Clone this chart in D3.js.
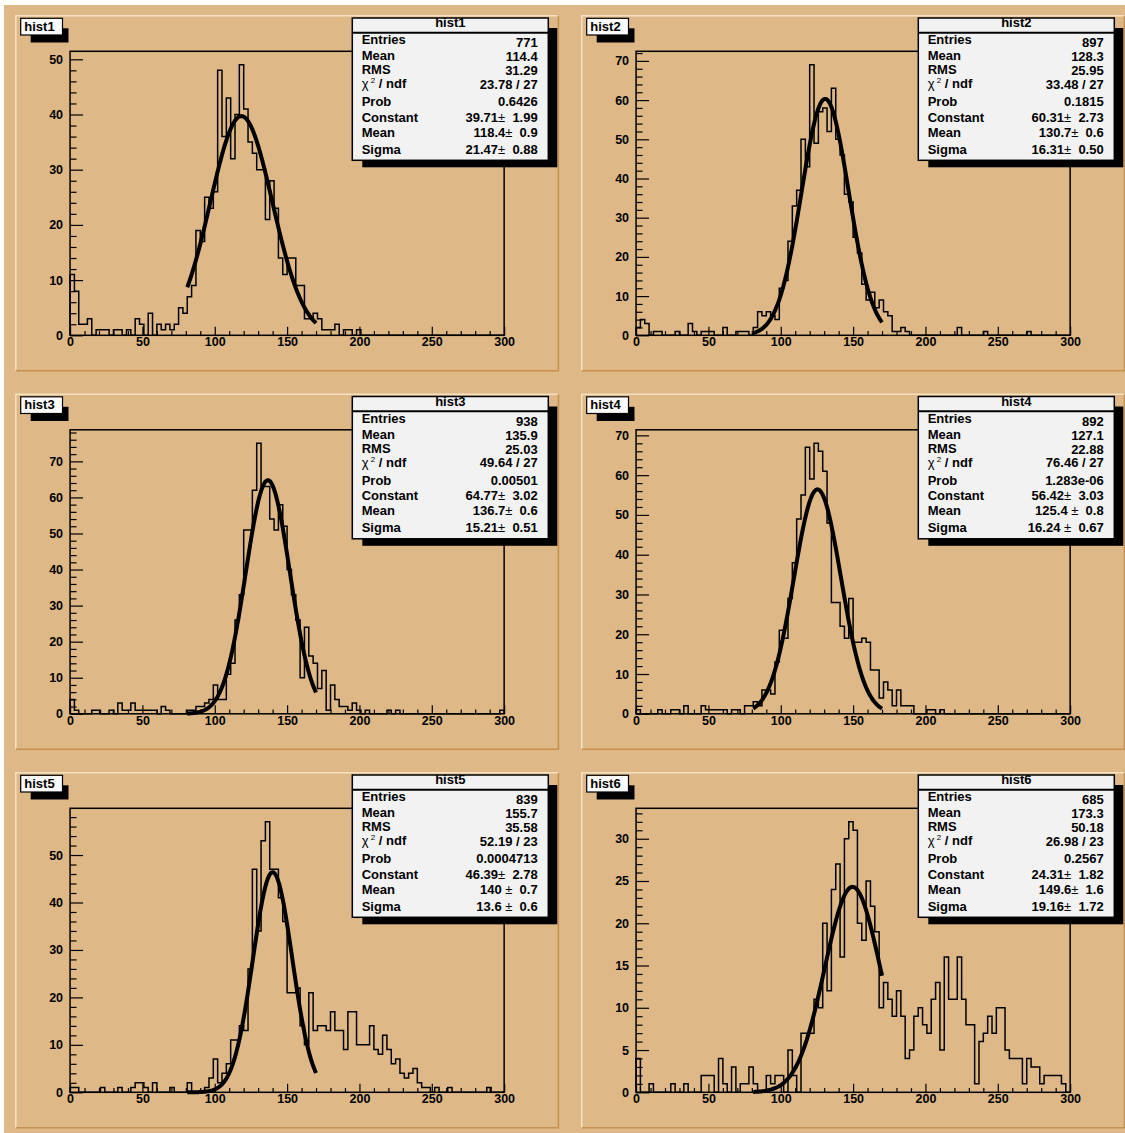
<!DOCTYPE html>
<html>
<head>
<meta charset="utf-8">
<script src="https://cdn.jsdelivr.net/npm/d3@7"></script>
<style>
  html, body { margin: 0; padding: 0; background: #ffffff; }
  svg { display: block; font-family: "Liberation Sans", Arial, Helvetica, sans-serif; }
</style>
</head>
<body>
<svg id="canvas" width="1125" height="1133"></svg>
<script>
// ---- histogram contents: 100 bins of width 3 on [0, 300] ----
const names = ["hist1", "hist2", "hist3", "hist4", "hist5", "hist6"];

const hist1 = [
  11,8,2,2,3,0,1,1,1,0, 1,1,0,1,0,3,2,0,4,0, 2,1,2,1,2,5,4,7,9,19,
  17,25,23,26,48,36,43,32,40,49, 41,35,33,30,30,21,28,23,14,11,
  14,14,9,9,3,3,4,3,1,1, 1,2,0,1,1,0,1,0,0,0,
  0,0,0,0,0,0,0,0,0,0, 0,0,0,0,0,0,0,0,0,0, 0,0,0,0,0,0,0,0,0,0];
const hist2 = [
  2,4,3,0,1,1,0,0,0,1, 0,0,3,1,0,1,1,1,0,0, 2,0,0,1,1,1,0,2,6,5,
  6,5,4,12,14,24,33,37,50,43, 69,49,57,58,52,63,50,46,36,34,
  25,21,13,9,11,7,9,6,5,1, 1,2,1,0,0,0,0,0,0,0,
  0,0,0,0,2,0,0,0,0,0, 1,0,0,0,0,0,0,0,0,0, 1,0,0,0,0,0,0,0,0,0];
const hist3 = [
  4,1,0,0,0,1,1,0,0,1, 0,3,1,1,3,1,1,1,1,1, 0,2,1,0,0,0,0,1,1,2,
  2,3,4,8,4,4,11,14,26,33, 51,51,62,75,63,63,54,51,58,52,
  40,33,26,10,24,16,14,7,12,1, 8,4,2,2,1,3,1,0,1,0,
  0,0,0,1,0,1,0,0,0,0, 0,0,0,0,0,0,0,0,0,0, 0,0,0,0,0,0,0,0,0,1];
const hist4 = [
  1,0,0,0,0,1,0,0,1,1, 0,2,0,0,0,2,1,1,1,1, 1,0,1,1,0,2,2,3,2,6,
  6,5,13,21,19,29,38,49,55,67, 59,68,66,61,48,28,28,22,19,29,
  18,18,19,18,11,11,4,8,6,2, 6,2,2,2,0,0,0,1,1,0,
  1,0,0,0,0,0,0,0,0,0, 0,0,0,0,0,0,0,0,0,0, 0,0,0,0,0,0,0,0,0,0];
const hist5 = [
  1,1,0,0,0,0,0,1,0,0, 0,1,0,0,1,2,2,1,0,2, 0,0,0,1,0,0,0,2,0,0,
  0,1,3,7,2,4,6,11,11,14, 13,26,47,34,53,57,47,47,41,36,
  21,21,22,14,10,21,13,14,14,13, 17,13,13,9,17,17,10,10,10,14,
  9,8,12,9,6,7,4,3,4,5, 2,1,1,0,1,0,0,1,0,0, 0,0,0,0,0,0,1,0,0,0];
const hist6 = [
  4,0,0,1,0,0,0,0,1,0, 0,1,0,0,0,2,2,2,0,4, 1,0,3,0,1,1,3,1,0,0,
  2,1,2,2,0,5,2,0,7,7, 7,11,10,20,12,24,27,16,30,32,
  31,20,18,25,22,19,10,13,11,9, 12,9,4,5,9,10,8,7,11,13,
  5,16,11,11,16,11,8,8,1,6, 7,9,7,10,10,5,4,4,4,1, 4,3,3,1,2,2,2,2,1,0];
const histograms = [hist1, hist2, hist3, hist4, hist5, hist6];
const xDomain = [0, 300];

// ---- gaussian fit results ----
const fitConstant = [39.71, 60.31, 64.77, 56.42, 46.39, 24.31];
const fitMean     = [118.4, 130.7, 136.7, 125.4, 140,   149.6];
const fitSigma    = [21.47, 16.31, 15.21, 16.24, 13.6,  19.16];
const fitRange    = [81, 170];

// ---- statistics box text ----
const statLabels = ["Entries", "Mean", "RMS", "chi2", "Prob", "Constant", "Mean", "Sigma"];
const entriesText = ["771", "897", "938", "892", "839", "685"];
const meanText    = ["114.4", "128.3", "135.9", "127.1", "155.7", "173.3"];
const rmsText     = ["31.29", "25.95", "25.03", "22.88", "35.58", "50.18"];
const chi2Text    = ["23.78 / 27", "33.48 / 27", "49.64 / 27", "76.46 / 27", "52.19 / 23", "26.98 / 23"];
const probText    = ["0.6426", "0.1815", "0.00501", "1.283e-06", "0.0004713", "0.2567"];
const constVal    = ["39.71", "60.31", "64.77", "56.42", "46.39", "24.31"];
const constErr    = ["1.99", "2.73", "3.02", "3.03", "2.78", "1.82"];
const meanVal     = ["118.4", "130.7", "136.7", "125.4 ", "140 ", "149.6"];
const meanErr     = ["0.9", "0.6", "0.6", "0.8", "0.7", "1.6"];
const sigmaVal    = ["21.47", "16.31", "15.21", "16.24 ", "13.6 ", "19.16"];
const sigmaErr    = ["0.88", "0.50", "0.51", "0.67", "0.6", "1.72"];

// ---- axis ticks ----
const xMajorTicks = [0, 50, 100, 150, 200, 250, 300];
const xMinorStep = 10;
const yMajorStep = [10, 10, 10, 10, 10, 5];
const yMinorStep = [2, 2, 2, 2, 2, 1];

// ---- canvas / pad layout ----
const TAN = "#deb887";
const LIGHT = "#f4e2c2";
const DARK = "#c4914f";
const PAD_X = [15.8, 581.8];
const PAD_Y = [15.8, 394.3, 772.8];
const PAD_W = 542.6, PAD_H = 355;
const FONT = "'Liberation Sans', Arial, Helvetica, sans-serif";

const svg = d3.select("#canvas");
svg.append("rect").attr("x", 4).attr("y", 5).attr("width", 1121).attr("height", 1128).attr("fill", TAN);

histograms.forEach((counts, i) => {
  const col = i % 2, row = Math.floor(i / 2);
  const g = svg.append("g").attr("transform", `translate(${PAD_X[col]},${PAD_Y[row]})`);

  // pad bevel
  g.append("rect").attr("width", PAD_W).attr("height", PAD_H).attr("fill", TAN);
  g.append("path").attr("d", `M0,${PAD_H} L0,0 L${PAD_W},0`).attr("fill", "none").attr("stroke", LIGHT).attr("stroke-width", 1.5);
  g.append("path").attr("d", `M0,${PAD_H} L${PAD_W},${PAD_H} L${PAD_W},0`).attr("fill", "none").attr("stroke", DARK).attr("stroke-width", 1.5);

  const fx0 = 0.1 * PAD_W, fx1 = 0.9 * PAD_W, fy0 = 0.1 * PAD_H, fy1 = 0.9 * PAD_H;
  const x = d3.scaleLinear().domain(xDomain).range([fx0, fx1]);
  const ymax = 1.05 * d3.max(counts);
  const y = d3.scaleLinear().domain([0, ymax]).range([fy1, fy0]);
  const binW = (xDomain[1] - xDomain[0]) / counts.length;

  // histogram outline (step line)
  const pts = [[xDomain[0], 0]];
  counts.forEach((c, k) => { pts.push([k * binW, c]); pts.push([(k + 1) * binW, c]); });
  pts.push([xDomain[1], 0]);
  g.append("path")
    .attr("d", d3.line().x(d => x(d[0])).y(d => y(d[1]))(pts))
    .attr("fill", "none").attr("stroke", "#000").attr("stroke-width", 1.5);

  // gaussian fit curve
  const gauss = v => fitConstant[i] * Math.exp(-0.5 * Math.pow((v - fitMean[i]) / fitSigma[i], 2));
  const fitPts = d3.range(fitRange[0], fitRange[1] + 0.001, 0.5);
  g.append("path")
    .attr("d", d3.line().x(v => x(v)).y(v => y(gauss(v)))(fitPts))
    .attr("fill", "none").attr("stroke", "#000").attr("stroke-width", 4);

  // frame
  g.append("rect").attr("x", fx0).attr("y", fy0).attr("width", fx1 - fx0).attr("height", fy1 - fy0)
    .attr("fill", "none").attr("stroke", "#000").attr("stroke-width", 1.5);

  // y axis
  const yMajor = d3.range(0, ymax + 1e-9, yMajorStep[i]);
  const yMinor = d3.range(0, ymax + 1e-9, yMinorStep[i]).filter(v => !yMajor.includes(v));
  const yAxis = g.append("g").attr("transform", `translate(${fx0},0)`)
    .call(d3.axisLeft(y).tickValues(yMajor).tickSize(-13).tickPadding(7).tickFormat(d3.format("d")));
  const yAxisMinor = g.append("g").attr("transform", `translate(${fx0},0)`)
    .call(d3.axisLeft(y).tickValues(yMinor).tickSize(-6.5).tickFormat(""));

  // x axis
  const xMinor = d3.range(xDomain[0], xDomain[1] + 1e-9, xMinorStep).filter(v => !xMajorTicks.includes(v));
  const xAxis = g.append("g").attr("transform", `translate(0,${fy1})`)
    .call(d3.axisBottom(x).tickValues(xMajorTicks).tickSize(-8.5).tickPadding(2).tickFormat(d3.format("d")));
  const xAxisMinor = g.append("g").attr("transform", `translate(0,${fy1})`)
    .call(d3.axisBottom(x).tickValues(xMinor).tickSize(-4.2).tickFormat(""));

  [yAxis, yAxisMinor, xAxis, xAxisMinor].forEach(a => {
    a.select(".domain").remove();
    a.attr("font-family", FONT).attr("font-size", 12.5).attr("font-weight", "bold");
    a.selectAll("line").attr("stroke", "#000").attr("stroke-width", 1.2);
    a.selectAll("text").attr("fill", "#000");
  });

  // statistics box
  const bx = 336.5, by = 2.2, bw = 196, bh = 142.3;
  g.append("rect").attr("x", bx + 10).attr("y", by + 10).attr("width", bw - 1).attr("height", bh - 3).attr("fill", "#000");
  g.append("rect").attr("x", bx).attr("y", by).attr("width", bw).attr("height", bh)
    .attr("fill", "#f2f2f2").attr("stroke", "#000").attr("stroke-width", 1.5);
  g.append("line").attr("x1", bx).attr("x2", bx + bw).attr("y1", by + 14.7).attr("y2", by + 14.7)
    .attr("stroke", "#000").attr("stroke-width", 2);
  const st = g.append("g").attr("font-family", FONT).attr("font-size", 13).attr("font-weight", "bold").attr("fill", "#000");
  st.append("text").attr("x", bx + bw / 2).attr("y", by + 9).attr("text-anchor", "middle").text(names[i]);

  const labelBase = [26.3, 42.3, 56.3, 70.5, 88.3, 104, 119, 135.7];
  const valueBase = [29.5, 43.3, 57.3, 71, 88.3, 104, 119, 135.7];
  const lx = bx + 9.4, rx = bx + bw - 10.6;
  statLabels.forEach((lab, r) => {
    const t = st.append("text").attr("x", lx).attr("y", by + labelBase[r]);
    if (lab === "chi2") {
      t.append("tspan").attr("font-weight", "normal").text("χ");
      t.append("tspan").attr("font-size", 8).attr("font-weight", "normal").attr("dy", -5).text(" 2");
      t.append("tspan").attr("dy", 5).text("  / ndf");
    } else {
      t.text(lab);
    }
  });
  const plainVals = [entriesText[i], meanText[i], rmsText[i], chi2Text[i], probText[i]];
  plainVals.forEach((v, r) => {
    st.append("text").attr("x", rx).attr("y", by + valueBase[r]).attr("text-anchor", "end").text(v);
  });
  [[constVal[i], constErr[i]], [meanVal[i], meanErr[i]], [sigmaVal[i], sigmaErr[i]]].forEach(([v, e], r) => {
    const t = st.append("text").attr("x", rx).attr("y", by + valueBase[r + 5]).attr("text-anchor", "end")
      .attr("xml:space", "preserve");
    t.append("tspan").text(v);
    t.append("tspan").attr("font-weight", "normal").text("±");
    t.append("tspan").text("  " + e);
  });

  // pad title label
  const lbx = 4.9, lby = 2.5, lbw = 41.8, lbh = 16.7;
  g.append("rect").attr("x", lbx + 10).attr("y", lby + 10).attr("width", lbw - 4).attr("height", lbh - 2.5).attr("fill", "#000");
  g.append("rect").attr("x", lbx).attr("y", lby).attr("width", lbw).attr("height", lbh)
    .attr("fill", "#fafafa").attr("stroke", "#000").attr("stroke-width", 1.2);
  g.append("text").attr("x", lbx + 3.6).attr("y", lby + 12.5)
    .attr("font-family", FONT).attr("font-size", 13).attr("font-weight", "bold").attr("fill", "#000")
    .text(names[i]);
});
</script>
</body>
</html>
